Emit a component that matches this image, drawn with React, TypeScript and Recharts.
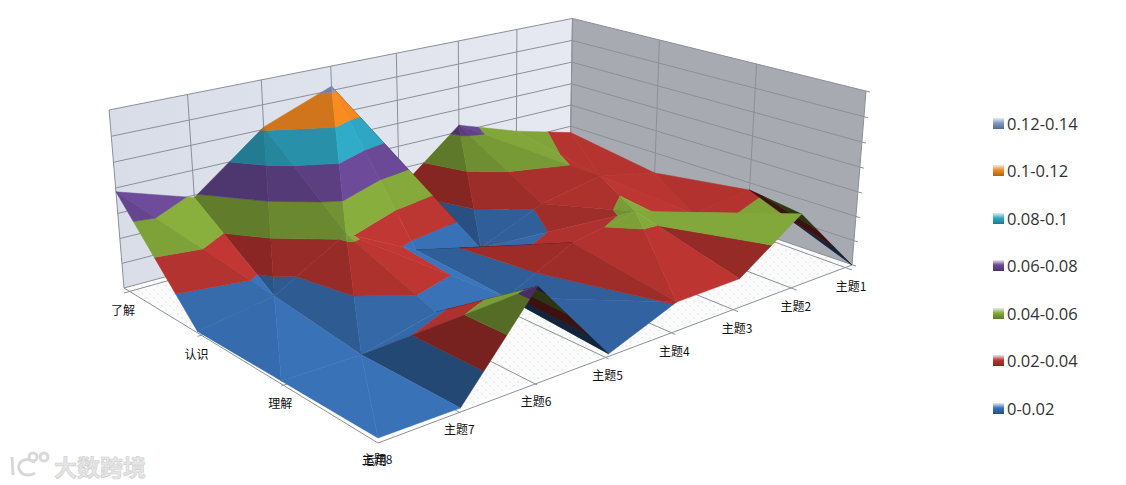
import React from "react";
import { ComposedChart, Area, XAxis, YAxis, ReferenceLine, ReferenceDot, Legend } from "recharts";

// ---- data ----
const topics = ["主题8", "主题7", "主题6", "主题5", "主题4", "主题3", "主题2", "主题1"];
const categories = ["运用", "理解", "认识", "了解"];
const yunyong = [0, 0, 0.067, 0, 0.021, 0.022, 0.057, 0];
const lijie = [0, 0, 0.014, 0.008, 0.035, 0.045, 0.028, 0.034];
const renshi = [0, 0.01, 0.043, 0.014, 0, 0.023, 0.033, 0.022];
const liaojie = [0.077, 0.058, 0.102, 0.1235, 0.022, 0.066, 0.048, 0.034];
const bandLabels = ["0-0.02", "0.02-0.04", "0.04-0.06", "0.06-0.08", "0.08-0.1", "0.1-0.12", "0.12-0.14"];
const bandColors = ["#3A72B8", "#BE3632", "#86AC3C", "#6C4A98", "#2FA9C6", "#F58A20", "#7F9AC4"];
const zLevels = [0, 0.02, 0.04, 0.06, 0.08, 0.1, 0.12, 0.14];
// which diagonal each surface cell folds along: A joins (i,j)-(i+1,j+1), B joins (i,j+1)-(i+1,j)
const foldsRow0 = "ABABABA";
const foldsRow1 = "AABBBAA";
const foldsRow2 = "BAABABA";

const surface = [yunyong, lijie, renshi, liaojie];
const folds = [foldsRow0, foldsRow1, foldsRow2];

// ---- 3D projection of the chart box ----
const WIDTH = 1126;
const HEIGHT = 485;
const F = [378, 438], L = [124, 288], R = [852, 265], B = [570, 168];
const VP = [494, 4707];
const K = -0.0476;
const ZMAX = 0.14;
const det = (L[0] - B[0]) * (R[1] - B[1]) - (R[0] - B[0]) * (L[1] - B[1]);
const sx = F[0] - L[0] + B[0] - R[0], sy = F[1] - L[1] + B[1] - R[1];
const G = (sx * (R[1] - B[1]) - (R[0] - B[0]) * sy) / det;
const H = ((L[0] - B[0]) * sy - sx * (L[1] - B[1])) / det;
const ax = L[0] * (1 + G) - F[0], ay = L[1] * (1 + G) - F[1];
const bx = R[0] * (1 + H) - F[0], by = R[1] * (1 + H) - F[1];
type P = { x: number; y: number };
function project(u: number, v: number, val: number): P {
  const kz = K * (val / ZMAX);
  const w = 1 + G * u + H * v + kz;
  return {
    x: (F[0] + ax * u + bx * v + kz * VP[0]) / w,
    y: (F[1] + ay * u + by * v + kz * VP[1]) / w,
  };
}

// ---- polygons to x-monotone range tables that the Area series can draw ----
function toRange(poly: P[]) {
  const xs = Array.from(new Set(poly.map((p) => Math.round(p.x * 100) / 100))).sort((a, b) => a - b);
  const rows: { x: number; r: [number, number] }[] = [];
  for (const x of xs) {
    let lo = Infinity, hi = -Infinity;
    poly.forEach((p, idx) => {
      const q = poly[(idx + 1) % poly.length];
      const x0 = Math.min(p.x, q.x) - 0.006, x1 = Math.max(p.x, q.x) + 0.006;
      if (x < x0 || x > x1) return;
      if (Math.abs(q.x - p.x) < 0.01) {
        lo = Math.min(lo, p.y, q.y); hi = Math.max(hi, p.y, q.y);
      } else {
        const y = p.y + ((q.y - p.y) * (x - p.x)) / (q.x - p.x);
        lo = Math.min(lo, y); hi = Math.max(hi, y);
      }
    });
    rows.push({ x, r: [lo, hi] });
  }
  return rows;
}

type V3 = { i: number; j: number; val: number };
function clipBand(tri: V3[], lo: number, hi: number): V3[] {
  const clip = (pts: V3[], limit: number, keepBelow: boolean) => {
    const out: V3[] = [];
    pts.forEach((p, idx) => {
      const q = pts[(idx + 1) % pts.length];
      const inP = keepBelow ? p.val <= limit : p.val >= limit;
      const inQ = keepBelow ? q.val <= limit : q.val >= limit;
      if (inP) out.push(p);
      if (inP !== inQ) {
        const t = (limit - p.val) / (q.val - p.val);
        out.push({ i: p.i + (q.i - p.i) * t, j: p.j + (q.j - p.j) * t, val: limit });
      }
    });
    return out;
  };
  let pts = clip(tri, hi, true);
  if (pts.length) pts = clip(pts, lo, false);
  return pts;
}
const screen = (p: V3) => project(p.i / 3, p.j / 7, p.val);
const signedArea = (pts: P[]) =>
  pts.reduce((s, p, n) => {
    const q = pts[(n + 1) % pts.length];
    return s + p.x * q.y - q.x * p.y;
  }, 0) / 2;

function shade(hex: string, f: number) {
  const n = parseInt(hex.slice(1), 16);
  const c = [(n >> 16) & 255, (n >> 8) & 255, n & 255].map((v) => Math.min(255, Math.round(v * f)));
  return `rgb(${c[0]},${c[1]},${c[2]})`;
}

const pieces: { rows: ReturnType<typeof toRange>; color: string }[] = [];
function addTriangle(a: number[], b: number[], c: number[]) {
  const tri: V3[] = [a, b, c].map(([i, j]) => ({ i, j, val: surface[i][j] }));
  // plane gradient in band units per grid step
  const d = (tri[1].i - tri[0].i) * (tri[2].j - tri[0].j) - (tri[2].i - tri[0].i) * (tri[1].j - tri[0].j);
  const dv1 = tri[1].val - tri[0].val, dv2 = tri[2].val - tri[0].val;
  const slopeJ = (((tri[1].i - tri[0].i) * dv2 - (tri[2].i - tri[0].i) * dv1) / d) / 0.02;
  const flat = signedArea(tri.map((t) => project(t.i / 3, t.j / 7, 0)));
  const real = signedArea(tri.map(screen));
  const back = flat * real < 0;
  const mi = (tri[0].i + tri[1].i + tri[2].i) / 9;
  const mj = (tri[0].j + tri[1].j + tri[2].j) / 21;
  const depth = 1 - 0.08 * mi * mj;
  const lit = slopeJ > 0 ? Math.max(0.63, 1 - 0.12 * slopeJ) : Math.min(1.04, 1 - 0.03 * slopeJ);
  const f = back ? 0.32 : lit * depth;
  const cellI = Math.min(tri[0].i, tri[1].i, tri[2].i);
  const cellJ = Math.min(tri[0].j, tri[1].j, tri[2].j);
  bandColors.forEach((col, b2) => {
    const poly = clipBand(tri, b2 * 0.02, (b2 + 1) * 0.02);
    if (poly.length < 3) return;
    const pts = poly.map(screen);
    if (Math.abs(signedArea(pts)) < 0.05) return;
    // the green ridge across the 主题3-主题2 cell is lit in the picture
    const ridge = b2 === 2 && cellI === 0 && cellJ === 5;
    pieces.push({ rows: toRange(pts), color: shade(col, ridge ? 0.97 : f) });
  });
}
for (let i = 2; i >= 0; i--) {
  for (let j = 6; j >= 0; j--) {
    if (folds[i][j] === "A") {
      addTriangle([i, j], [i + 1, j], [i + 1, j + 1]);
      addTriangle([i, j], [i, j + 1], [i + 1, j + 1]);
    } else {
      addTriangle([i + 1, j], [i + 1, j + 1], [i, j + 1]);
      addTriangle([i, j], [i + 1, j], [i, j + 1]);
    }
  }
}

const top = zLevels[zLevels.length - 1];
const leftWall = toRange([project(1, 0, 0), project(1, 1, 0), project(1, 1, top), project(1, 0, top)]);
const rightWall = toRange([project(1, 1, 0), project(0, 1, 0), project(0, 1, top), project(1, 1, top)]);
const floor = toRange([project(0, 0, 0), project(1, 0, 0), project(1, 1, 0), project(0, 1, 0)]);

const LINE = "#8b9097";
type Seg = [P, P];
const wallLines: Seg[] = [];
zLevels.forEach((z) => {
  wallLines.push([project(1, 0, z), project(1, 1, z)]);
  const end = project(0, 1, z);
  wallLines.push([project(1, 1, z), { x: end.x + 4, y: end.y + 1 }]);
});
topics.forEach((_, j) => wallLines.push([project(1, j / 7, 0), project(1, j / 7, top)]));
categories.forEach((_, i) => wallLines.push([project(i / 3, 1, 0), project(i / 3, 1, top)]));
const floorLines: Seg[] = [];
topics.forEach((_, j) => {
  const p = project(0, j / 7, 0);
  floorLines.push([{ x: p.x, y: p.y + 5 }, project(1, j / 7, 0)]);
});
categories.forEach((_, i) => {
  const p = project(i / 3, 0, 0);
  floorLines.push([{ x: p.x, y: p.y + 5 }, project(i / 3, 1, 0)]);
});

const areaProps = { type: "linear" as const, dataKey: "r", dot: false, activeDot: false, isAnimationActive: false, legendType: "none" as const };
const labelFont = "'Noto Sans CJK SC', sans-serif";

function LegendBox() {
  return (
    <div style={{ position: "absolute", left: 993, top: 111.7, width: 120 }}>
      {[...bandLabels].reverse().map((label, n) => {
        const col = bandColors[bandColors.length - 1 - n];
        return (
          <div key={label} style={{ display: "flex", alignItems: "center", height: 47.5, marginTop: n === 0 ? -12 : 0 }}>
            <span style={{ width: 11, height: 11, marginRight: 3, background: `linear-gradient(180deg, #e8ecf2 0%, ${col} 45%, ${shade(col, 0.7)} 100%)` }} />
            <span style={{ fontSize: 16.5, fontFamily: "'Open Sans', sans-serif", color: "#333", whiteSpace: "nowrap" }}>{label}</span>
          </div>
        );
      })}
    </div>
  );
}

export default function App() {
  return (
    <div style={{ position: "absolute", left: 0, top: 0, width: WIDTH, height: HEIGHT, background: "#fff", overflow: "hidden" }}>
      <ComposedChart width={WIDTH} height={HEIGHT} margin={{ top: 0, right: 0, bottom: 0, left: 0 }}>
        <defs>
          <pattern id="floorDots" width="8" height="8" patternUnits="userSpaceOnUse">
            <rect width="8" height="8" fill="#fbfbfb" />
            <circle cx="2" cy="2" r="0.7" fill="#dcdcdc" />
            <circle cx="6" cy="6" r="0.7" fill="#dcdcdc" />
          </pattern>
          <linearGradient id="leftWallFill" x1="0" y1="0" x2="1" y2="0">
            <stop offset="0%" stopColor="#d8dde8" />
            <stop offset="100%" stopColor="#e6e9f1" />
          </linearGradient>
        </defs>
        <XAxis type="number" dataKey="x" domain={[0, WIDTH]} hide allowDataOverflow />
        <YAxis type="number" domain={[0, HEIGHT]} reversed hide allowDataOverflow />
        <Area {...areaProps} data={leftWall} fill="url(#leftWallFill)" fillOpacity={1} stroke="none" zIndex={10} />
        <Area {...areaProps} data={rightWall} fill="#a7aab1" fillOpacity={1} stroke="none" zIndex={10} />
        <Area {...areaProps} data={floor} fill="url(#floorDots)" fillOpacity={1} stroke="none" zIndex={10} />
        {wallLines.concat(floorLines).map((s, n) => (
          <ReferenceLine key={n} segment={s} stroke={LINE} strokeWidth={1} ifOverflow="visible" zIndex={20} />
        ))}
        {pieces.map((p, n) => (
          <Area key={n} {...areaProps} data={p.rows} fill={p.color} fillOpacity={1} stroke={p.color} strokeWidth={0.5} />
        ))}
        {topics.map((t, j) => {
          const p = project(0, j / 7, 0);
          return (
            <ReferenceDot key={t} x={p.x - 1} y={p.y + 22} r={0} stroke="none" ifOverflow="visible"
              label={{ value: t, position: "center", fontSize: 12, fontFamily: labelFont, fill: "#111" }} />
          );
        })}
        {categories.map((c, i) => {
          const p = project(i / 3, 0, 0);
          return (
            <ReferenceDot key={c} x={p.x - (i === 0 ? 3 : 1)} y={p.y + 23} r={0} stroke="none" ifOverflow="visible"
              label={{ value: c, position: "center", fontSize: 12, fontFamily: labelFont, fill: "#111" }} />
          );
        })}
        <Legend verticalAlign="middle" align="center" layout="horizontal" wrapperStyle={{ position: "absolute", left: 0, top: 0, width: 0, height: 0 }} content={() => <LegendBox />} />
      </ComposedChart>
      <div style={{ position: "absolute", left: 54, top: 449, fontSize: 23, fontWeight: 700, fontFamily: "'Noto Sans CJK SC', sans-serif", color: "#e6e6e6", WebkitTextStroke: "0.6px #cfcfcf", letterSpacing: 0 }}>大数跨境</div>
      <svg style={{ position: "absolute", left: 8, top: 450 }} width="46" height="28" fill="none" stroke="#d8d8d8" strokeWidth="3">
        <path d="M4 7 L5 25" />
        <path d="M27 12 C14 5 8 15 12 21 C15 26 22 26 27 23" />
        <circle cx="25" cy="7" r="4" />
        <circle cx="36" cy="7" r="4" />
      </svg>
    </div>
  );
}
